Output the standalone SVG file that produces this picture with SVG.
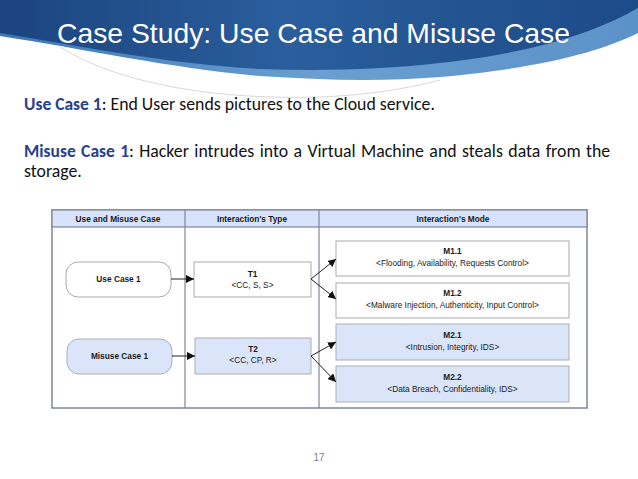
<svg xmlns="http://www.w3.org/2000/svg" width="638" height="479" viewBox="0 0 638 479">
<style>
.tbl{fill:#ffffff;stroke:#7f8695;stroke-width:1.5}
.hdr{fill:#d7e2fb;stroke:#7f8695;stroke-width:1.2}
.div{stroke:#7f8695;stroke-width:1.2;fill:none}
.box{fill:#ffffff;stroke:#a9a9a9;stroke-width:1}
.boxb{fill:#dbe5fa;stroke:#a9adb5;stroke-width:1}
.t{font-family:"Liberation Sans",Arial,sans-serif;font-size:8.3px;fill:#1a1a1a;text-anchor:middle}
.b{font-weight:bold}
.conn{stroke:#222;stroke-width:1;fill:none}
.body{font-family:Carlito,"Open Sans","Liberation Sans",sans-serif;font-size:17.8px;fill:#111}
.kw{font-weight:bold;fill:#27418f;font-size:17.5px}
</style>
<defs>
<linearGradient id="gDark" x1="0" y1="0" x2="1" y2="0">
<stop offset="0" stop-color="#1b4480"/>
<stop offset="0.45" stop-color="#2a5e9c"/>
<stop offset="1" stop-color="#1d4a88"/>
</linearGradient>
<linearGradient id="gLight" x1="0" y1="0" x2="1" y2="0">
<stop offset="0" stop-color="#3f77b4"/>
<stop offset="0.5" stop-color="#6a9fd0"/>
<stop offset="1" stop-color="#5b92c8"/>
</linearGradient>
<marker id="ah" viewBox="0 0 10 10" refX="10" refY="5" markerWidth="8" markerHeight="8" markerUnits="userSpaceOnUse" orient="auto">
<path d="M0,0 L10,5 L0,10 Z" fill="#111"/>
</marker>
</defs>
<rect width="638" height="479" fill="#ffffff"/>
<g id="banner">
<path d="M60,47 C120,85 220,100 320,97 C370,95 410,88 440,80" fill="none" stroke="#d8d8d8" stroke-width="1"/>
<path d="M0,0 H638 V33 C600,52 540,68 440,77 C380,82 320,80 260,76 C170,68 90,50 0,36 Z" fill="url(#gLight)"/>
<path d="M0,0 H638 V8 C600,30 540,52 440,63 C380,70 320,71 260,69 C170,64 90,48 0,33 Z" fill="url(#gDark)"/>
<text x="57" y="43" font-family="'Liberation Sans',Arial,sans-serif" font-size="28" fill="#ffffff" textLength="513" lengthAdjust="spacingAndGlyphs">Case Study: Use Case and Misuse Case</text>
</g>
<g id="description">
<text class="body" x="24" y="110"><tspan class="kw">Use Case 1</tspan>: End User sends pictures to the Cloud service.</text>
<text class="body" x="24" y="157" word-spacing="1.4"><tspan class="kw">Misuse Case 1</tspan>: Hacker intrudes into a Virtual Machine and steals data from the</text>
<text class="body" x="24" y="177">storage.</text>
</g>
<g id="table">
<rect class="tbl" x="52" y="210" width="535" height="198"/>
<rect class="hdr" x="52" y="210" width="535" height="17"/>
<line class="div" x1="185" y1="210" x2="185" y2="408"/>
<line class="div" x1="319" y1="210" x2="319" y2="408"/>
<text class="t b" x="118" y="222">Use and Misuse Case</text>
<text class="t b" x="252" y="222">Interaction's Type</text>
<text class="t b" x="453" y="222">Interaction's Mode</text>
</g>
<g id="uc1">
<rect class="box" x="66" y="262" width="105" height="35" rx="12"/>
<text class="t b" x="118.5" y="282">Use Case 1</text>
</g>
<g id="mc1">
<rect class="boxb" x="67" y="339" width="105" height="35" rx="12"/>
<text class="t b" x="119.5" y="359">Misuse Case 1</text>
</g>
<g id="t1">
<rect class="box" x="194" y="262" width="117" height="35"/>
<text class="t b" x="252.5" y="277">T1</text>
<text class="t" x="252.5" y="288">&lt;CC, S, S&gt;</text>
</g>
<g id="t2">
<rect class="boxb" x="195" y="338" width="116" height="36"/>
<text class="t b" x="253" y="352">T2</text>
<text class="t" x="253" y="363">&lt;CC, CP, R&gt;</text>
</g>
<g id="m11">
<rect class="box" x="336" y="241" width="233" height="35"/>
<text class="t b" x="452.5" y="254">M1.1</text>
<text class="t" x="452.5" y="266">&lt;Flooding, Availability, Requests Control&gt;</text>
</g>
<g id="m12">
<rect class="box" x="336" y="283" width="233" height="35"/>
<text class="t b" x="452.5" y="296">M1.2</text>
<text class="t" x="452.5" y="308">&lt;Malware Injection, Authenticity, Input Control&gt;</text>
</g>
<g id="m21">
<rect class="boxb" x="336" y="324" width="233" height="36"/>
<text class="t b" x="452.5" y="338">M2.1</text>
<text class="t" x="452.5" y="350">&lt;Intrusion, Integrity, IDS&gt;</text>
</g>
<g id="m22">
<rect class="boxb" x="336" y="366" width="233" height="36"/>
<text class="t b" x="452.5" y="380">M2.2</text>
<text class="t" x="452.5" y="392">&lt;Data Breach, Confidentiality, IDS&gt;</text>
</g>
<g id="connectors">
<line class="conn" x1="171" y1="279" x2="194" y2="279" marker-end="url(#ah)"/>
<line class="conn" x1="172" y1="356" x2="195" y2="356" marker-end="url(#ah)"/>
<line class="conn" x1="311" y1="279" x2="336" y2="259" marker-end="url(#ah)"/>
<line class="conn" x1="311" y1="279" x2="336" y2="299" marker-end="url(#ah)"/>
<line class="conn" x1="311" y1="356" x2="336" y2="342" marker-end="url(#ah)"/>
<line class="conn" x1="311" y1="356" x2="336" y2="382" marker-end="url(#ah)"/>
</g>
<text x="319" y="461" font-family="'Liberation Sans',Arial,sans-serif" font-size="10" fill="#808080" text-anchor="middle">17</text>
</svg>
